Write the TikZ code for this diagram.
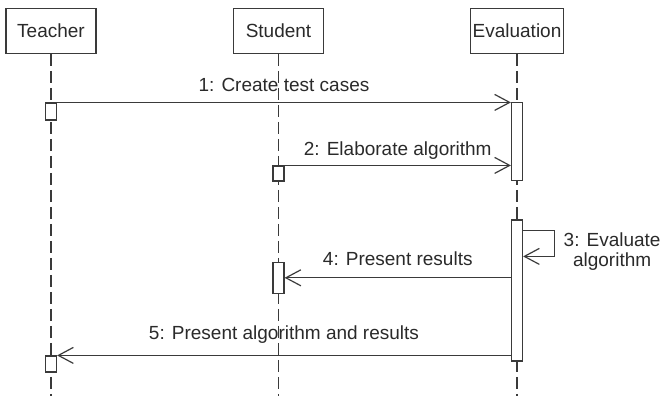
\documentclass[tikz,border=0pt]{standalone}
\usepackage{fontspec}
\setmainfont{Liberation Sans}
\usepackage{tikz}
\usetikzlibrary{arrows.meta}
\definecolor{umlline}{HTML}{3A3A3A}
\definecolor{umltext}{HTML}{2A2A2A}

\begin{document}
\begin{tikzpicture}[x=1pt, y=-1pt, line width=1.2pt, color=umlline]
  \tikzstyle{actor}=[draw, fill=white, minimum width=90pt,
    minimum height=45pt, inner sep=0pt,
    font=\fontsize{19}{20}\selectfont, text=umltext]
  \tikzstyle{act}=[draw, fill=white, minimum width=11pt, inner sep=0pt]
  \tikzstyle{life}=[dash pattern=on 12pt off 5pt, line width=1.2pt]
  \tikzstyle{msg}=[-{Straight Barb[length=15pt, width=16pt]}]
  \tikzstyle{lbl}=[font=\fontsize{19}{20}\selectfont, text=umltext,
    inner sep=0pt, text depth=0pt]
  \tikzstyle{note}=[font=\fontsize{19}{20}\selectfont, text=umltext,
    inner sep=0pt, align=center]

  \useasboundingbox (0,0) rectangle (661,396);

  \node[actor] (teacher) at (51,30.8) {Teacher};
  \node[actor] (student) at (278.5,30.8) {Student};
  \node[actor, minimum width=93pt] (evaluation) at (517,30.8) {Evaluation};

  \coordinate (tEnd) at (51,396);
  \coordinate (sEnd) at (278.5,396);
  \coordinate (eEnd) at (517,396);
  \draw[life] (teacher.south) -- (tEnd);
  \draw[life] (student.south) -- (sEnd);
  \draw[life] (evaluation.south) -- (eEnd);

  \node[act, minimum height=17pt]  (t1) at (51,111.5) {};
  \node[act, minimum height=78pt]  (e1) at (517,141.7) {};
  \node[act, minimum height=15pt]  (s1) at (278.5,173.5) {};
  \node[act, minimum height=141pt] (e2) at (517,290.5) {};
  \node[act, minimum height=31pt]  (s2) at (278.5,277.8) {};
  \node[act, minimum height=16pt]  (t2) at (51,364) {};

  \draw[msg] (t1.north east) -- (t1.north east -| e1.west)
    node[lbl, midway, above=10pt] {1: Create test cases};
  \draw[msg] (s1.north east) -- (s1.north east -| e1.west)
    node[lbl, midway, above=9pt] {2: Elaborate algorithm};
  \draw[msg] ([yshift=-11pt]e2.north east) -- ++(31,0) -- ++(0,26)
    node[note, midway, right=9pt, yshift=-8pt] {3: Evaluate\\algorithm}
    -- ([yshift=-37pt]e2.north east);
  \draw[msg] (s2.east -| e2.west) -- (s2.east)
    node[lbl, midway, above=12pt] {4: Present results};
  \draw[msg] (t2.north east -| e2.west) -- (t2.north east)
    node[lbl, midway, above=15pt] {5: Present algorithm and results};
\end{tikzpicture}
\end{document}
